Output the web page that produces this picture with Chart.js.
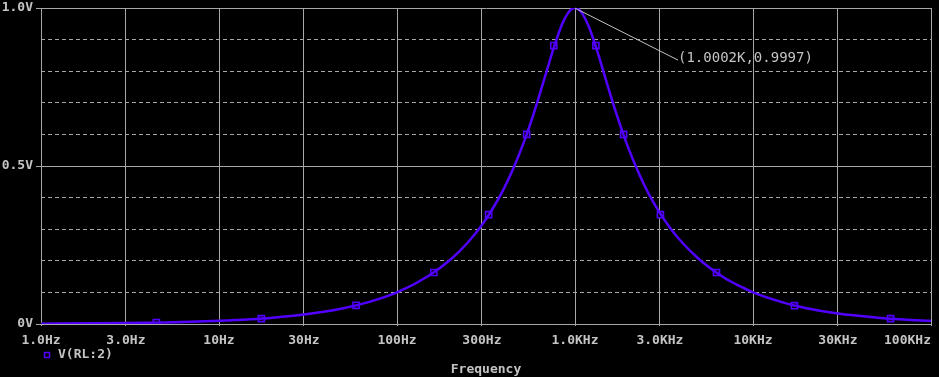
<!DOCTYPE html>
<html><head><meta charset="utf-8">
<script src="https://cdn.jsdelivr.net/npm/chart.js@4/dist/chart.umd.min.js"></script>
<style>html,body{margin:0;padding:0;background:#000;overflow:hidden}#wrap{width:939px;height:377px;position:relative;background:#000}</style>
</head><body><div id="wrap"><canvas id="c" width="939" height="377"></canvas></div>
<script>
// Trace V(RL:2) vs frequency
const frequencies = [1,2,3,5,7,10,15,20,30,50,70,100,150,200,250,300,350,400,450,500,550,600,650,700,750,800,850,900,950,1000,1050,1100,1200,1300,1400,1500,1700,2000,2300,2600,3000,3500,4000,5000,6000,7000,8500,10000,15000,20000,30000,50000,70000,100000];
const voltages = [0.001,0.002,0.003,0.005,0.007,0.010,0.015,0.020,0.030,0.050,0.070,0.100,0.152,0.204,0.258,0.313,0.371,0.430,0.492,0.555,0.619,0.684,0.748,0.808,0.864,0.912,0.951,0.978,0.995,1.000,0.995,0.982,0.939,0.883,0.825,0.768,0.669,0.555,0.473,0.411,0.351,0.297,0.258,0.204,0.169,0.144,0.119,0.100,0.067,0.050,0.033,0.020,0.014,0.010];
// Trace symbol positions
const markerFrequencies = [4.45,17.3,58.9,161,327,535,760,1310,1875,3020,6237,17100,59300];
const markerVoltages = [0.0045,0.017,0.059,0.163,0.346,0.600,0.881,0.881,0.600,0.346,0.163,0.058,0.017];
// Axis ticks
const xTickValues = [1,3,10,30,100,300,1000,3000,10000,30000,100000];
const xTickLabels = ['1.0Hz','3.0Hz','10Hz','30Hz','100Hz','300Hz','1.0KHz','3.0KHz','10KHz','30KHz','100KHz'];
const yTickValues = [0,0.5,1.0];
const yTickLabels = ['0V','0.5V','1.0V'];
const seriesLabel = 'V(RL:2)';
const xAxisTitle = 'Frequency';
const cursorX = 1000.2, cursorY = 0.9997;
const cursorText = '(1.0002K,0.9997)';

const TRACE = '#5200ff';
const GRID = '#a8a8a8';
const TEXT = '#c4c4c4';
const MONO = "'DejaVu Sans Mono', 'Liberation Mono', monospace";

const overlay = {
  id: 'overlay',
  afterDraw(chart) {
    const ctx = chart.ctx;
    const xs = chart.scales.x, ys = chart.scales.y;
    const px = xs.getPixelForValue(cursorX), py = ys.getPixelForValue(cursorY);
    ctx.save();
    // cursor label
    ctx.strokeStyle = TEXT; ctx.lineWidth = 1;
    ctx.beginPath(); ctx.moveTo(px, py); ctx.lineTo(px + 103, py + 52); ctx.stroke();
    ctx.fillStyle = TEXT; ctx.font = '14px ' + MONO;
    ctx.textAlign = 'left'; ctx.textBaseline = 'middle';
    ctx.fillText(cursorText, px + 103, py + 50);
    // legend
    ctx.strokeStyle = TRACE; ctx.lineWidth = 1.5;
    ctx.strokeRect(44.5, 352.5, 5, 5);
    ctx.fillStyle = TEXT; ctx.font = 'bold 13px ' + MONO;
    ctx.fillText(seriesLabel, 58, 355);
    ctx.restore();
  }
};

new Chart(document.getElementById('c'), {
  type: 'line',
  data: {
    datasets: [
      { label: seriesLabel, data: frequencies.map((f, i) => ({x: f, y: voltages[i]})),
        borderColor: TRACE, borderWidth: 2.5, pointRadius: 0, cubicInterpolationMode: 'monotone', fill: false },
      { label: seriesLabel + ' markers', data: markerFrequencies.map((f, i) => ({x: f, y: markerVoltages[i]})),
        showLine: false, pointStyle: 'rect', pointRadius: 4.3, pointBorderWidth: 1.6,
        pointBackgroundColor: '#000', pointBorderColor: TRACE, borderColor: TRACE }
    ]
  },
  options: {
    responsive: false, animation: false, devicePixelRatio: 1,
    layout: { padding: { top: 8, right: 8, left: 0, bottom: 0 } },
    plugins: { legend: { display: false }, tooltip: { enabled: false } },
    scales: {
      x: {
        type: 'logarithmic', min: 1, max: 100000,
        afterBuildTicks: s => { s.ticks = xTickValues.map(v => ({ value: v })); },
        afterFit: s => { s.paddingLeft = 0; s.paddingRight = 0; s.height = 53; },
        ticks: {
          autoSkip: false, maxRotation: 0, color: TEXT, padding: 7,
          font: { family: MONO, size: 13, weight: 'bold' },
          callback: (v) => {
            const i = xTickValues.indexOf(v);
            if (i < 0) return '';
            return i === xTickValues.length - 1 ? xTickLabels[i] + '      ' : xTickLabels[i];
          }
        },
        grid: { color: GRID, lineWidth: 1, tickLength: 2, tickColor: GRID },
        border: { color: GRID, width: 1 },
        title: { display: true, text: xAxisTitle, color: TEXT, font: { family: MONO, size: 13, weight: 'bold' }, padding: { top: 0, bottom: 0 } }
      },
      y: {
        type: 'linear', min: 0, max: 1, position: 'left',
        afterBuildTicks: s => { s.ticks = yTickValues.map(v => ({ value: v })); },
        afterFit: s => { s.width = 41; s.paddingTop = 0; s.paddingBottom = 0; },
        ticks: {
          color: TEXT, padding: 3, font: { family: MONO, size: 13, weight: 'bold' },
          callback: (v) => { const i = yTickValues.indexOf(v); return i < 0 ? '' : yTickLabels[i]; }
        },
        grid: { color: GRID, lineWidth: 1, tickLength: 5, tickColor: GRID },
        border: { color: GRID, width: 1 }
      },
      yMinor: {
        type: 'linear', min: 0, max: 1, position: 'left',
        ticks: { display: false, stepSize: 0.1 },
        afterFit: s => { s.width = 0; s.paddingTop = 0; s.paddingBottom = 0; },
        grid: {
          drawTicks: false, lineWidth: 1,
          color: c => { const v = c.tick ? c.tick.value : 0; return Math.abs(v * 2 - Math.round(v * 2)) < 1e-6 ? 'rgba(0,0,0,0)' : GRID; }
        },
        border: { display: false, dash: [4, 3] }
      }
    }
  },
  plugins: [overlay]
});
</script>
</body></html>
